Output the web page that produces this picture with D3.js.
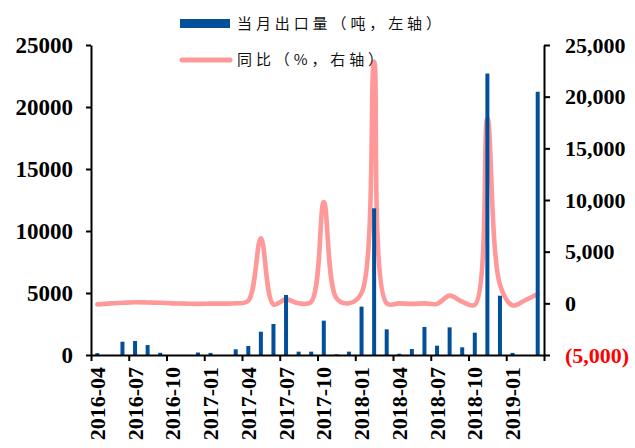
<!DOCTYPE html>
<html><head><meta charset="utf-8">
<script src="https://cdn.jsdelivr.net/npm/d3@7"></script>
<style>body{margin:0;background:#fff}svg{display:block}</style>
</head><body><svg id="c" width="635" height="448"></svg>
<script>
const months = ["2016-04","2016-05","2016-06","2016-07","2016-08","2016-09","2016-10","2016-11","2016-12",
  "2017-01","2017-02","2017-03","2017-04","2017-05","2017-06","2017-07","2017-08","2017-09","2017-10","2017-11","2017-12",
  "2018-01","2018-02","2018-03","2018-04","2018-05","2018-06","2018-07","2018-08","2018-09","2018-10","2018-11","2018-12",
  "2019-01","2019-02","2019-03"];
const exportTons = [150,0,1070,1130,800,180,0,0,200,170,0,460,730,1880,2500,4840,270,270,2770,50,270,
  3900,11830,2070,100,480,2260,750,2230,620,1800,22700,4780,170,0,21230];
const yoyPct = [-100,0,50,100,80,50,0,-30,-50,-30,-30,0,250,6300,-100,380,0,150,9800,500,0,
  1000,23400,0,0,-50,0,-50,750,150,-150,17900,1800,-200,300,900];
const leftTicks = [0,5000,10000,15000,20000,25000];
const rightTicks = [-5000,0,5000,10000,15000,20000,25000];
const xTickLabels = ["2016-04","2016-07","2016-10","2017-01","2017-04","2017-07","2017-10","2018-01","2018-04","2018-07","2018-10","2019-01"];
const legendLabels = ["当月出口量（吨，左轴）","同比（%，右轴）"];

const svg = d3.select("#c");
const L = 91, R = 544, T = 45, B = 355;
const barColor = "#03509A", lineColor = "#FF9999";
const numFont = "'Liberation Serif','Times New Roman',serif";

const x = d3.scaleBand().domain(months).range([L, R]).paddingInner(0).paddingOuter(0);
const xi = d3.scaleLinear().domain([0, months.length]).range([L, R]);
const yL = d3.scaleLinear().domain([0, 25000]).range([B, T]);
const yR = d3.scaleLinear().domain([-5000, 25000]).range([B, T]);

// line (drawn under bars)
const line = d3.line()
  .x((d, i) => x(months[i]) + x.bandwidth() / 2)
  .y(d => yR(d))
  .curve(d3.curveCatmullRom.alpha(0.5));
svg.append("path").datum(yoyPct).attr("d", line)
  .attr("fill", "none").attr("stroke", lineColor).attr("stroke-width", 4.6)
  .attr("stroke-linejoin", "round").attr("stroke-linecap", "round");

// bars
const bw = 4;
svg.append("g").selectAll("rect").data(exportTons).join("rect")
  .attr("x", (d, i) => x(months[i]) + x.bandwidth() / 2 - bw / 2)
  .attr("y", d => yL(d))
  .attr("width", bw)
  .attr("height", d => B - yL(d))
  .attr("fill", barColor);

// left axis
const gL = svg.append("g").attr("transform", `translate(${L},0)`)
  .call(d3.axisLeft(yL).tickValues(leftTicks).tickSize(5).tickSizeOuter(0).tickPadding(13).tickFormat(d3.format("d")));
// right axis
const gR = svg.append("g").attr("transform", `translate(${R},0)`)
  .call(d3.axisRight(yR).tickValues(rightTicks).tickSize(6).tickSizeOuter(0).tickPadding(15)
    .tickFormat(d => d < 0 ? "(" + d3.format(",")(-d) + ")" : d3.format(",")(d)));
gR.selectAll(".tick text").attr("fill", d => d < 0 ? "#FF0000" : "#000");
// x axis
const gX = svg.append("g").attr("transform", `translate(0,${B})`)
  .call(d3.axisBottom(xi).tickValues(d3.range(0, months.length + 1, 3)).tickSize(6).tickSizeOuter(0).tickFormat(""));

[gL, gR, gX].forEach(g => {
  g.select(".domain").attr("stroke", "#000").attr("stroke-width", 2);
  g.selectAll(".tick line").attr("stroke", "#000").attr("stroke-width", 2);
  g.selectAll(".tick text").attr("font-family", numFont).attr("font-weight", "bold").attr("font-size", 22);
});
gL.selectAll(".tick text").attr("fill", "#000").attr("font-size", 23);

// x labels
svg.append("g").selectAll("text").data(xTickLabels).join("text")
  .attr("transform", d => `translate(${x(d) + x.bandwidth() / 2},${B + 12}) rotate(-90)`)
  .attr("text-anchor", "end").attr("dy", "0.35em")
  .attr("font-family", numFont).attr("font-weight", "bold").attr("font-size", 22)
  .attr("fill", "#000").text(d => d);

// legend
const lg = svg.append("g");
lg.append("rect").attr("x", 180).attr("y", 19).attr("width", 50).attr("height", 9).attr("fill", barColor);
lg.append("line").attr("x1", 182).attr("x2", 230).attr("y1", 60).attr("y2", 60)
  .attr("stroke", lineColor).attr("stroke-width", 5).attr("stroke-linecap", "round");
lg.selectAll("text").data(legendLabels).join("text")
  .attr("x", 237).attr("y", (d, i) => i === 0 ? 24 : 60).attr("dy", "0.35em")
  .attr("font-family", "'Noto Sans CJK SC',sans-serif").attr("font-size", 15)
  .attr("letter-spacing", 3.9).attr("fill", "#111").text(d => d);
</script></body></html>
